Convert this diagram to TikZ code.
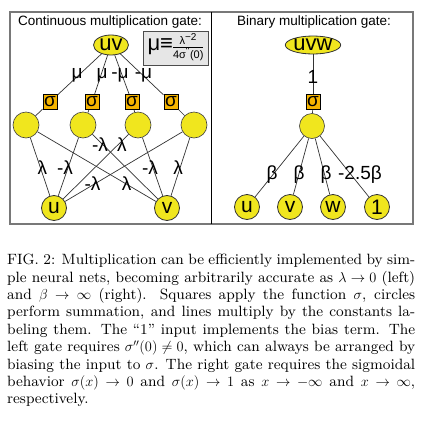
\documentclass[tikz,border=0pt]{standalone}
\usepackage{fontspec}
\newfontfamily\arial{Liberation Sans}
\newfontfamily\capfont[Ligatures=TeX]{lmroman9-regular.otf}
\usetikzlibrary{shapes.geometric}
\definecolor{gyellow}{RGB}{240,230,30}
\definecolor{gorange}{RGB}{245,180,0}
\definecolor{boxgray}{RGB}{230,230,230}
\definecolor{framegray}{RGB}{120,120,120}
\begin{document}
\begin{tikzpicture}[x=1pt,y=-1pt,
  every node/.style={font=\arial},
  sum/.style={circle,draw=black!75,fill=gyellow,minimum size=26pt,inner sep=0pt,line width=0.6pt},
  io/.style={circle,draw=black!80,fill=gyellow,minimum size=25pt,inner sep=0pt,line width=0.8pt,font=\arial\fontsize{21}{21}\selectfont},
  sq/.style={rectangle,draw=black,fill=gorange,minimum width=14pt,minimum height=15pt,inner sep=0pt,line width=1pt,font=\arial\fontsize{19}{19}\selectfont},
  outp/.style={ellipse,draw=black!80,fill=gyellow,inner sep=0pt,line width=0.8pt,font=\arial\fontsize{22}{22}\selectfont},
  wire/.style={draw=black!80,line width=0.7pt},
  lab/.style={inner sep=0pt,font=\arial\fontsize{19}{19}\selectfont},
  ttl/.style={inner sep=0pt,anchor=base,font=\arial\fontsize{13.5}{13.5}\selectfont}
]
\useasboundingbox (0,0) rectangle (432,421);
\fill[white] (0,0) rectangle (432,421);
% frames
\draw[framegray,line width=1.3pt] (10,12) rectangle (413,224);
\draw[black,line width=0.7pt] (211,12) -- (211,224);
% titles
\node[ttl] (t1) at (110,25) {Continuous multiplication gate:};
\node[ttl] (t2) at (314,25) {Binary multiplication gate:};
% left gate
\node[outp,minimum width=35pt,minimum height=20pt] (uv) at (111,45) {uv};
\node[rectangle,draw=black!70,fill=boxgray,line width=1pt,minimum width=65pt,minimum height=34pt,inner sep=1pt] (mu) at (175.5,48)
  {{\fontsize{22}{22}\selectfont μ≡}\begin{tabular}{@{}c@{}}\fontsize{11}{11}\selectfont λ\textsuperscript{\fontsize{10}{10}\selectfont −2}\\[-1pt]\hline\fontsize{11}{13}\selectfont 4σ\textsuperscript{\fontsize{10}{10}\selectfont "}(0)\end{tabular}};
\node[sq] (s1) at (50,102) {σ};
\node[sq] (s2) at (92,102) {σ};
\node[sq] (s3) at (132,102) {σ};
\node[sq] (s4) at (171,102) {σ};
\node[sum] (c1) at (26,125) {};
\node[sum] (c2) at (83,125) {};
\node[sum] (c3) at (138,125) {};
\node[sum] (c4) at (194,125) {};
\node[io] (u) at (54,208) {u};
\node[io] (v) at (167,208) {v};
\foreach \i in {1,...,4} {
  \draw[wire] (uv) -- (s\i);
  \draw[wire] (s\i) -- (c\i);
}
\draw[wire] (c1) -- (u);
\draw[wire] (c1) -- (v);
\draw[wire] (c2) -- (u);
\draw[wire] (c2) -- (v);
\draw[wire] (c3) -- (u);
\draw[wire] (c3) -- (v);
\draw[wire] (c4) -- (u);
\draw[wire] (c4) -- (v);
\node[lab] (m1) at (77,75) {μ};
\node[lab] (m2) at (102,75) {μ};
\node[lab] (m3) at (120,75) {-μ};
\node[lab] (m4) at (143.5,75) {-μ};
\node[lab] (l1) at (42.5,168) {λ};
\node[lab] (l2) at (65,168) {-λ};
\node[lab] (l3) at (100,145) {-λ};
\node[lab] (l4) at (122,145) {λ};
\node[lab] (l5) at (150,168) {-λ};
\node[lab] (l6) at (178,168) {λ};
\node[lab] (l7) at (92.5,184) {-λ};
\node[lab] (l8) at (126.5,184) {λ};
% right gate
\node[outp,minimum width=50pt,minimum height=18pt] (uvw) at (313,45) {uvw};
\node[sq] (sr) at (313,102) {σ};
\node[sum,minimum size=25pt] (cr) at (312,126) {};
\node[io] (b1) at (247,207) {u};
\node[io] (b2) at (290,207) {v};
\node[io] (b3) at (333,207) {w};
\node[io] (b4) at (377,207) {1};
\draw[wire] (uvw) -- (sr);
\draw[wire] (sr) -- (cr);
\foreach \i in {1,...,4} \draw[wire] (cr) -- (b\i);
\node[lab] (one) at (313,77) {1};
\node[lab] (be1) at (272,174.5) {β};
\node[lab] (be2) at (299,174.5) {β};
\node[lab] (be3) at (326,174.5) {β};
\node[lab] (be4) at (360,174.5) {-2.5β};
% caption
\node[anchor=north west,inner sep=0pt,text width=408pt,align=justify,font=\capfont\fontsize{14.9}{17.4}\selectfont] (cap) at (7,254)
{FIG. 2: Multiplication can be efficiently implemented by sim-\linebreak
ple neural nets, becoming arbitrarily accurate as $\lambda\to0$ (left)\linebreak
and $\beta\to\infty$ (right).  Squares apply the function $\sigma$, circles\linebreak
perform summation, and lines multiply by the constants la-\linebreak
beling them. The “1” input implements the bias term. The\linebreak
left gate requires $\sigma''(0)\neq0$, which can always be arranged by\linebreak
biasing the input to $\sigma$. The right gate requires the sigmoidal\linebreak
behavior $\sigma(x)\to0$ and $\sigma(x)\to1$ as $x\to-\infty$ and $x\to\infty$,\linebreak
respectively.};
\end{tikzpicture}
\end{document}
